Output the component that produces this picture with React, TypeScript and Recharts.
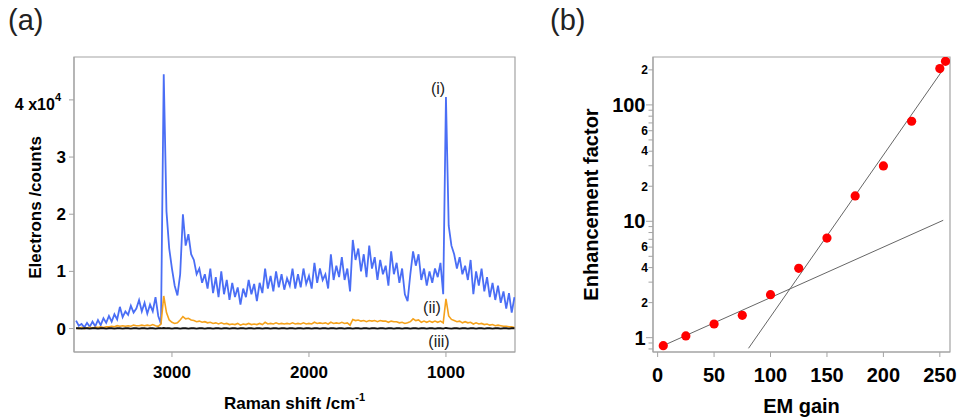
import React from 'react'
import {
  ComposedChart,
  Line,
  Scatter,
  XAxis,
  YAxis,
  ReferenceArea,
  ReferenceDot,
  Label,
} from 'recharts'

const FONT = '"Liberation Sans", Arial, Helvetica, sans-serif'
const GREY = '#a3a3a3'

// ---------- (a) Raman spectra, counts in units of 1e4 electrons ----------
const SHIFTS = [
  3700, 3680, 3660, 3640, 3620, 3600, 3580, 3560, 3540, 3520,
  3500, 3480, 3460, 3440, 3420, 3400, 3380, 3360, 3340, 3320,
  3300, 3280, 3260, 3240, 3220, 3200, 3180, 3160, 3140, 3120,
  3100, 3080, 3060, 3040, 3020, 3000, 2980, 2960, 2940, 2920,
  2900, 2880, 2860, 2840, 2820, 2800, 2780, 2760, 2740, 2720,
  2700, 2680, 2660, 2640, 2620, 2600, 2580, 2560, 2540, 2520,
  2500, 2480, 2460, 2440, 2420, 2400, 2380, 2360, 2340, 2320,
  2300, 2280, 2260, 2240, 2220, 2200, 2180, 2160, 2140, 2120,
  2100, 2080, 2060, 2040, 2020, 2000, 1980, 1960, 1940, 1920,
  1900, 1880, 1860, 1840, 1820, 1800, 1780, 1760, 1740, 1720,
  1700, 1680, 1660, 1640, 1620, 1600, 1580, 1560, 1540, 1520,
  1500, 1480, 1460, 1440, 1420, 1400, 1380, 1360, 1340, 1320,
  1300, 1280, 1260, 1240, 1220, 1200, 1180, 1160, 1140, 1120,
  1100, 1080, 1060, 1040, 1020, 1000, 980, 960, 940, 920,
  900, 880, 860, 840, 820, 800, 780, 760, 740, 720,
  700, 680, 660, 640, 620, 600, 580, 560, 540, 520,
  500,
]

// trace (i), blue
const TRACE_I = [
  0.14, 0.05, 0.08, 0.02, 0.1, 0.03, 0.12, 0.04, 0.15, 0.06,
  0.18, 0.1, 0.22, 0.12, 0.25, 0.16, 0.38, 0.2, 0.3, 0.24,
  0.4, 0.28, 0.35, 0.5, 0.3, 0.45, 0.26, 0.42, 0.3, 0.55,
  0.22, 0.08, 4.45, 2.05, 1.4, 1.05, 0.75, 0.58, 0.95, 2.0,
  1.45, 1.65, 1.3, 1.2, 0.95, 1.05, 0.8, 0.95, 0.7, 1.05,
  0.62, 0.9, 0.55, 1.0, 0.6, 0.85, 0.5, 0.8, 0.55, 0.72,
  0.42, 0.7, 0.55, 0.85, 0.6, 0.78, 0.48, 0.8, 0.62, 1.05,
  0.7, 0.92, 0.65, 1.0, 0.72, 0.95, 0.68, 0.88, 0.75, 1.05,
  0.7, 0.95, 0.72, 1.05, 0.78, 0.92, 0.7, 1.15, 0.8, 1.05,
  0.85, 0.95, 0.7, 1.3, 0.85, 1.1, 0.9, 1.25, 0.85, 1.05,
  0.65, 1.55, 1.2, 1.4, 1.0, 1.3, 0.9, 1.45, 1.05, 1.25,
  0.85, 1.2, 0.95, 1.1, 0.75, 1.35, 0.95, 1.15, 0.8, 1.05,
  0.6, 0.48, 0.95, 1.35, 1.1, 1.3, 0.85, 1.05, 0.75, 1.0,
  0.8, 1.05, 0.9, 1.15, 0.6, 4.05, 1.8, 1.45, 1.3, 1.05,
  1.25, 0.95, 1.1, 0.85, 1.2, 0.6, 1.0, 0.75, 1.05, 0.65,
  0.9, 0.55, 0.8, 0.5, 0.75, 0.45, 0.65, 0.35, 0.62, 0.28,
  0.55,
]

// trace (ii), orange
const TRACE_II = [
  0.01, 0.0, 0.02, 0.0, 0.01, 0.02, 0.01, 0.02, 0.02, 0.03,
  0.02, 0.03, 0.03, 0.04, 0.03, 0.05, 0.04, 0.05, 0.04, 0.05,
  0.04, 0.06, 0.05, 0.05, 0.06, 0.05, 0.06, 0.05, 0.07, 0.05,
  0.04, 0.08, 0.57, 0.28, 0.15, 0.11, 0.09, 0.1, 0.15, 0.21,
  0.17, 0.18, 0.15, 0.14, 0.12, 0.13, 0.11, 0.12, 0.1, 0.11,
  0.09, 0.1, 0.08, 0.1, 0.08, 0.09, 0.07, 0.08, 0.07, 0.09,
  0.06, 0.08, 0.07, 0.09, 0.07, 0.08, 0.07, 0.09, 0.07, 0.11,
  0.08, 0.09, 0.08, 0.1, 0.08, 0.09, 0.08, 0.09, 0.08, 0.1,
  0.08, 0.09, 0.08, 0.1, 0.08, 0.09, 0.08, 0.11, 0.09, 0.1,
  0.09, 0.1, 0.08, 0.11, 0.09, 0.1, 0.09, 0.11, 0.09, 0.1,
  0.06, 0.16, 0.14, 0.15, 0.13, 0.14, 0.12, 0.14, 0.13, 0.14,
  0.12, 0.14, 0.13, 0.13, 0.11, 0.13, 0.12, 0.12, 0.1, 0.11,
  0.09, 0.1, 0.12, 0.17, 0.14, 0.15, 0.11, 0.13, 0.11, 0.13,
  0.11, 0.13, 0.11, 0.13, 0.1, 0.52, 0.22, 0.16, 0.14, 0.12,
  0.13, 0.1, 0.12, 0.1, 0.11, 0.08, 0.1, 0.08, 0.09, 0.07,
  0.08, 0.06, 0.07, 0.05, 0.06, 0.05, 0.04, 0.04, 0.03, 0.03,
  0.02,
]

// trace (iii), black
const TRACE_III = [
  0.005, 0.005, 0.0, 0.005, 0.005, 0.0, 0.005, 0.005, 0.0, 0.005,
  0.005, 0.0, 0.005, 0.005, 0.0, 0.005, 0.005, 0.0, 0.005, 0.005,
  0.0, 0.005, 0.005, 0.0, 0.005, 0.005, 0.0, 0.005, 0.005, 0.0,
  0.005, 0.005, 0.01, 0.005, 0.005, 0.0, 0.005, 0.005, 0.0, 0.005,
  0.005, 0.0, 0.005, 0.005, 0.0, 0.005, 0.005, 0.0, 0.005, 0.005,
  0.0, 0.005, 0.005, 0.0, 0.005, 0.005, 0.0, 0.005, 0.005, 0.0,
  0.005, 0.005, 0.0, 0.005, 0.005, 0.0, 0.005, 0.005, 0.0, 0.005,
  0.005, 0.0, 0.005, 0.005, 0.0, 0.005, 0.005, 0.0, 0.005, 0.005,
  0.0, 0.005, 0.005, 0.0, 0.005, 0.005, 0.0, 0.005, 0.005, 0.0,
  0.005, 0.005, 0.0, 0.005, 0.005, 0.0, 0.005, 0.005, 0.0, 0.005,
  0.005, 0.0, 0.005, 0.005, 0.0, 0.005, 0.005, 0.0, 0.005, 0.005,
  0.0, 0.005, 0.005, 0.0, 0.005, 0.005, 0.0, 0.005, 0.005, 0.0,
  0.005, 0.005, 0.0, 0.005, 0.005, 0.0, 0.005, 0.005, 0.0, 0.005,
  0.005, 0.0, 0.005, 0.005, 0.0, 0.01, 0.005, 0.0, 0.005, 0.005,
  0.0, 0.005, 0.005, 0.0, 0.005, 0.005, 0.0, 0.005, 0.005, 0.0,
  0.005, 0.005, 0.0, 0.005, 0.005, 0.0, 0.005, 0.005, 0.0, 0.005,
  0.005,
]

const SHIFT_TICKS = [1000, 2000, 3000]
const COUNT_TICKS = [0, 1, 2, 3, 4]
const SHIFT_DOMAIN: [number, number] = [496, 3715]
const COUNT_DOMAIN: [number, number] = [-0.41, 4.75]

// trace names, anchored in data units
const TRACE_NAMES = ['(i)', '(ii)', '(iii)']
const TRACE_NAME_SHIFT = [1058, 1102, 1051]
const TRACE_NAME_COUNT = [4.2, 0.38, -0.215]

// ---------- (b) enhancement vs EM gain ----------
const EM_GAIN = [5, 25, 50, 75, 100, 125, 150, 175, 200, 225, 250, 255]
const ENHANCEMENT = [0.854, 1.034, 1.31, 1.556, 2.34, 3.94, 7.17, 16.5, 29.9, 72.4, 205, 237]
const LOW_FIT_GAIN = [3.3, 253]
const LOW_FIT_EF = [0.84, 10.2]
const HIGH_FIT_GAIN = [80.5, 252]
const HIGH_FIT_EF = [0.81, 196]

const GAIN_TICKS = [0, 50, 100, 150, 200, 250]
const GAIN_DOMAIN: [number, number] = [-4.1, 259]
const EF_DOMAIN: [number, number] = [0.753, 258]
const EF_TICKS = [0.8, 0.9, 1, 2, 3, 4, 5, 6, 7, 8, 9, 10, 20, 30, 40, 50, 60, 70, 80, 90, 100, 200]
const EF_TICK_TEXT: Record<number, string> = {
  1: '1', 2: '2', 4: '4', 6: '6', 10: '10', 20: '2', 40: '4', 60: '6', 100: '100', 200: '2',
}
const EF_MAJOR = [1, 10, 100]

const spectrum = SHIFTS.map((s, i) => ({
  shift: s,
  i: TRACE_I[i],
  ii: TRACE_II[i],
  iii: TRACE_III[i],
}))
const points = EM_GAIN.map((g, i) => ({ x: g, y: ENHANCEMENT[i] }))
const lowFit = LOW_FIT_GAIN.map((g, i) => ({ x: g, y: LOW_FIT_EF[i] }))
const highFit = HIGH_FIT_GAIN.map((g, i) => ({ x: g, y: HIGH_FIT_EF[i] }))

function CountTick(props: any) {
  const { x, y, payload } = props
  if (payload.value === 4) {
    return (
      <text x={x - 5} y={y + 4} dy="0.355em" textAnchor="end" fontFamily={FONT} fontWeight="bold" fill="#000" fontSize={16}>
        4 x10
        <tspan dy={-9} fontSize={11}>4</tspan>
      </text>
    )
  }
  return (
    <text x={x} y={y} dy="0.355em" textAnchor="end" fontFamily={FONT} fontWeight="bold" fill="#000" fontSize={17}>
      {payload.value}
    </text>
  )
}

function EfTick(props: any) {
  const { x, y, payload } = props
  const v = payload.value
  const major = EF_MAJOR.includes(v)
  const len = major ? 7 : 4.5
  const txt = EF_TICK_TEXT[v]
  return (
    <g>
      <line x1={x - len} x2={x} y1={y} y2={y} stroke={GREY} strokeWidth={1} />
      {txt && (
        <text
          x={x - len - 0.5}
          y={y}
          dy="0.355em"
          textAnchor="end"
          fontFamily={FONT}
          fontWeight="bold"
          fill="#000"
          fontSize={major ? 20 : 12}
        >
          {txt}
        </text>
      )}
    </g>
  )
}

const ramanTitle = (p: any) => {
  const vb = p.viewBox
  return (
    <text x={vb.x + vb.width / 2} y={vb.y + 57} textAnchor="middle" fontFamily={FONT} fontWeight="bold" fontSize={17} fill="#000">
      Raman shift /cm
      <tspan dy={-8} fontSize={11}>-1</tspan>
    </text>
  )
}

const electronsTitle = (p: any) => {
  const vb = p.viewBox
  const cx = vb.x + 40.7
  const cy = vb.y + vb.height / 2 + 3
  return (
    <text x={cx} y={cy} transform={`rotate(-90, ${cx}, ${cy})`} textAnchor="middle" fontFamily={FONT} fontWeight="bold" fontSize={17} fill="#000">
      Electrons /counts
    </text>
  )
}

const gainTitle = (p: any) => {
  const vb = p.viewBox
  return (
    <text x={vb.x + vb.width / 2} y={vb.y + 60.5} textAnchor="middle" fontFamily={FONT} fontWeight="bold" fontSize={20} fill="#000">
      EM gain
    </text>
  )
}

const enhancementTitle = (p: any) => {
  const vb = p.viewBox
  const cx = vb.x + 58
  const cy = vb.y + vb.height / 2
  return (
    <text x={cx} y={cy} transform={`rotate(-90, ${cx}, ${cy})`} textAnchor="middle" fontFamily={FONT} fontWeight="bold" fontSize={20} fill="#000">
      Enhancement factor
    </text>
  )
}

const redDot = (p: any) => <circle cx={p.cx} cy={p.cy} r={4.6} fill="#ff0000" />

const panelLetter: React.CSSProperties = {
  position: 'absolute',
  top: 6,
  fontFamily: FONT,
  fontSize: 29,
  lineHeight: '29px',
  color: '#222',
}

export default function App() {
  return (
    <div style={{ position: 'absolute', left: 0, top: 0, width: 957, height: 417, background: '#fff', overflow: 'hidden' }}>
      <div style={{ ...panelLetter, left: 8 }}>(a)</div>
      <div style={{ ...panelLetter, left: 550 }}>(b)</div>

      <div style={{ position: 'absolute', left: 0, top: 0 }}>
        <ComposedChart width={530} height={417} data={spectrum} margin={{ top: 57, right: 15, bottom: 0, left: 0 }}>
          <ReferenceArea
            x1={SHIFT_DOMAIN[0]}
            x2={SHIFT_DOMAIN[1]}
            y1={COUNT_DOMAIN[0]}
            y2={COUNT_DOMAIN[1]}
            fill="none"
            stroke={GREY}
            strokeWidth={1.2}
          />
          <XAxis
            dataKey="shift"
            type="number"
            domain={SHIFT_DOMAIN}
            reversed
            allowDataOverflow
            ticks={SHIFT_TICKS}
            interval={0}
            height={65}
            stroke={GREY}
            tickSize={5}
            tickMargin={9}
            tick={{ fill: '#000', fontSize: 17, fontWeight: 'bold', fontFamily: FONT }}
          >
            <Label content={ramanTitle} />
          </XAxis>
          <YAxis
            type="number"
            domain={COUNT_DOMAIN}
            allowDataOverflow
            ticks={COUNT_TICKS}
            interval={0}
            width={74}
            stroke={GREY}
            tickSize={5}
            tickMargin={3}
            tick={<CountTick />}
          >
            <Label content={electronsTitle} />
          </YAxis>
          <Line dataKey="i" stroke="#4a6ef5" strokeWidth={1.8} dot={false} isAnimationActive={false} />
          <Line dataKey="ii" stroke="#f5a21c" strokeWidth={1.6} dot={false} isAnimationActive={false} />
          <Line dataKey="iii" stroke="#111" strokeWidth={1.8} dot={false} isAnimationActive={false} />
          {TRACE_NAMES.map((name, k) => (
            <ReferenceDot
              key={name}
              x={TRACE_NAME_SHIFT[k]}
              y={TRACE_NAME_COUNT[k]}
              r={0}
              fill="none"
              stroke="none"
              label={{ value: name, position: 'center', fontSize: 16, fill: '#222', fontFamily: FONT }}
            />
          ))}
        </ComposedChart>
      </div>

      <div style={{ position: 'absolute', left: 540, top: 0 }}>
        <ComposedChart width={417} height={417} margin={{ top: 57, right: 7, bottom: 0, left: 0 }}>
          <ReferenceArea
            x1={GAIN_DOMAIN[0]}
            x2={GAIN_DOMAIN[1]}
            y1={EF_DOMAIN[0]}
            y2={EF_DOMAIN[1]}
            fill="none"
            stroke={GREY}
            strokeWidth={1.2}
          />
          <XAxis
            dataKey="x"
            type="number"
            domain={GAIN_DOMAIN}
            allowDataOverflow
            ticks={GAIN_TICKS}
            interval={0}
            height={65}
            stroke={GREY}
            tickSize={5}
            tickMargin={11}
            tick={{ fill: '#000', fontSize: 20, fontWeight: 'bold', fontFamily: FONT }}
          >
            <Label content={gainTitle} />
          </XAxis>
          <YAxis
            dataKey="y"
            type="number"
            scale="log"
            domain={EF_DOMAIN}
            allowDataOverflow
            ticks={EF_TICKS}
            interval={0}
            width={113}
            stroke={GREY}
            tickLine={false}
            tickSize={0}
            tickMargin={0}
            tick={<EfTick />}
          >
            <Label content={enhancementTitle} />
          </YAxis>
          <Line data={lowFit} dataKey="y" stroke="#666" strokeWidth={1} dot={false} isAnimationActive={false} />
          <Line data={highFit} dataKey="y" stroke="#666" strokeWidth={1} dot={false} isAnimationActive={false} />
          <Scatter data={points} dataKey="y" fill="#ff0000" shape={redDot} isAnimationActive={false} />
        </ComposedChart>
      </div>
    </div>
  )
}
